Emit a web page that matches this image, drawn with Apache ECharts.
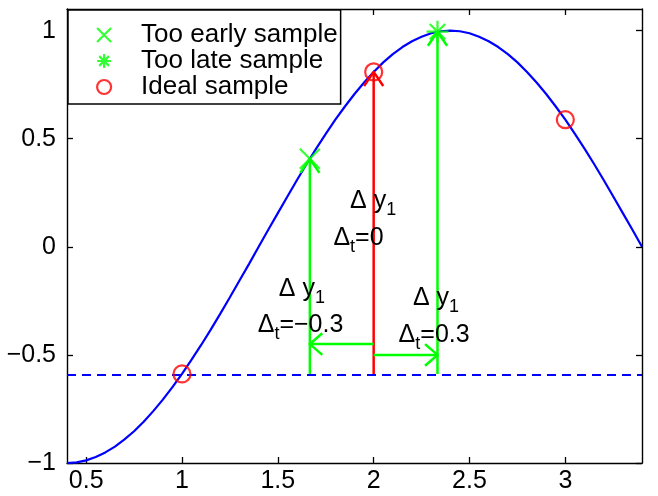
<!DOCTYPE html>
<html>
<head>
<meta charset="utf-8">
<script src="https://cdn.jsdelivr.net/npm/echarts@6/dist/echarts.min.js"></script>
<style>
  html, body { margin: 0; padding: 0; background: #fff; }
  #chart { width: 658px; height: 496px; }
</style>
</head>
<body>
<div id="chart"></div>
<script>
// Signal curve, sampled every 0.05
const curveX = [0.40, 0.45, 0.50, 0.55, 0.60, 0.65, 0.70, 0.75, 0.80, 0.85,
                0.90, 0.95, 1.00, 1.05, 1.10, 1.15, 1.20, 1.25, 1.30, 1.35,
                1.40, 1.45, 1.50, 1.55, 1.60, 1.65, 1.70, 1.75, 1.80, 1.85,
                1.90, 1.95, 2.00, 2.05, 2.10, 2.15, 2.20, 2.25, 2.30, 2.35,
                2.40, 2.45, 2.50, 2.55, 2.60, 2.65, 2.70, 2.75, 2.80, 2.85,
                2.90, 2.95, 3.00, 3.05, 3.10, 3.15, 3.20, 3.25, 3.30, 3.35, 3.40];
const curveY = [-1.000, -0.997, -0.988, -0.972, -0.951, -0.924, -0.891, -0.853, -0.809, -0.760,
                -0.707, -0.649, -0.588, -0.522, -0.454, -0.383, -0.309, -0.233, -0.156, -0.079,
                 0.000,  0.079,  0.156,  0.233,  0.309,  0.383,  0.454,  0.522,  0.588,  0.649,
                 0.707,  0.760,  0.809,  0.853,  0.891,  0.924,  0.951,  0.972,  0.988,  0.997,
                 1.000,  0.997,  0.988,  0.972,  0.951,  0.924,  0.891,  0.853,  0.809,  0.760,
                 0.707,  0.649,  0.588,  0.522,  0.454,  0.383,  0.309,  0.233,  0.156,  0.079,  0.000];

// Sample points
const earlyX = [1.667], earlyY = [0.407];
const lateX  = [2.333], lateY  = [0.995];
const idealX = [1, 2, 3], idealY = [-0.588, 0.809, 0.588];

// Reference level of the first ideal sample
const refLevel = -0.588;

// Arrows: [x1, y1, x2, y2] (head drawn at x2, y2)
const redArrows = [[2, -0.588, 2, 0.809]];
const greenArrows = [
  [1.667, -0.588, 1.667, 0.407],
  [2.333, -0.588, 2.333, 0.995],
  [2, -0.45, 1.667, -0.45],
  [2, -0.50, 2.333, -0.50]
];

// Annotation text
const noteText = [
  '{m|\u0394 y}{s|1}', '{m|\u0394}{s|t}{m|=0}',
  '{m|\u0394 y}{s|1}', '{m|\u0394}{s|t}{m|=\u22120.3}',
  '{m|\u0394 y}{s|1}', '{m|\u0394}{s|t}{m|=0.3}'
];
const noteX = [1.877, 1.790, 1.505, 1.395, 2.205, 2.130];
const noteY = [0.213, 0.039, -0.194, -0.361, -0.238, -0.407];

// Axis ticks
const xTicks = [0.5, 1, 1.5, 2, 2.5, 3];
const yTicks = [-1, -0.5, 0, 0.5, 1];

const FONT = '"Liberation Sans", Arial, Helvetica, sans-serif';
const BLUE = '#0000ff', GREEN = '#00ff00', RED = '#ff0000';
const HEAD_BACK = 0.065, HEAD_SIDE = 0.05;

const zip = (a, b) => a.map((v, i) => [v, b[i]]);
const tickFmt = v => (v < 0 ? '\u2212' : '') + Math.abs(v);

function arrowRenderer(color) {
  return function (params, api) {
    const x1 = api.value(0), y1 = api.value(1), x2 = api.value(2), y2 = api.value(3);
    const p1 = api.coord([x1, y1]), p2 = api.coord([x2, y2]);
    const sx = Math.sign(x2 - x1), sy = Math.sign(y2 - y1);
    let a, b;
    if (sx !== 0) {
      a = api.coord([x2 - sx * HEAD_BACK, y2 + HEAD_SIDE]);
      b = api.coord([x2 - sx * HEAD_BACK, y2 - HEAD_SIDE]);
    } else {
      a = api.coord([x2 - HEAD_SIDE, y2 - sy * HEAD_BACK]);
      b = api.coord([x2 + HEAD_SIDE, y2 - sy * HEAD_BACK]);
    }
    return {
      type: 'group',
      children: [
        { type: 'line', shape: { x1: p1[0], y1: p1[1], x2: p2[0], y2: p2[1] },
          style: { stroke: color, lineWidth: 2.5 } },
        { type: 'polyline', shape: { points: [a, p2, b] },
          style: { stroke: color, fill: null, lineWidth: 2.5 } }
      ]
    };
  };
}

function axisPair(kind, min, max, ticks, showLabels, position) {
  return {
    type: 'value', min: min, max: max, position: position,
    axisLine: { show: true, onZero: false, lineStyle: { color: '#000', width: 1.4 } },
    axisTick: { show: true, inside: true, length: 6, customValues: ticks,
                lineStyle: { color: '#000', width: 1.3 } },
    axisLabel: { show: showLabels, customValues: ticks, formatter: tickFmt,
                 fontSize: 25, fontFamily: FONT, color: '#000', margin: kind === 'x' ? 6 : 11 },
    splitLine: { show: false }
  };
}

const chart = echarts.init(document.getElementById('chart'), null, { renderer: 'canvas' });

const markerCommon = { type: 'scatter', silent: true, z: 5, emphasis: { disabled: true } };

chart.setOption({
  animation: false,
  backgroundColor: '#fff',
  grid: { left: 67, right: 16, top: 9, bottom: 33, containLabel: false, outerBoundsMode: 'none' },
  xAxis: [axisPair('x', 0.4, 3.4, xTicks, true, 'bottom'), axisPair('x', 0.4, 3.4, xTicks, false, 'top')],
  yAxis: [axisPair('y', -1, 1.1, yTicks, true, 'left'), axisPair('y', -1, 1.1, yTicks, false, 'right')],
  legend: {
    left: 68, top: 10, orient: 'vertical',
    data: ['Too early sample', 'Too late sample', 'Ideal sample'],
    backgroundColor: '#fff', borderColor: '#000', borderWidth: 1.5, borderRadius: 0,
    padding: [12, 3, 4, 28], itemGap: 0,
    itemWidth: 64, itemHeight: 14, symbolKeepAspect: true,
    selectedMode: false,
    itemStyle: { borderWidth: 2.2 },
    textStyle: { fontSize: 26, fontFamily: FONT, color: '#000' }
  },
  series: [
    {
      name: 'signal', type: 'line', data: zip(curveX, curveY), showSymbol: false, silent: true,
      lineStyle: { color: BLUE, width: 2.2 }, z: 2,
      markLine: {
        silent: true, symbol: 'none', label: { show: false },
        lineStyle: { color: BLUE, width: 2, type: [9, 6] },
        data: [{ yAxis: refLevel }]
      }
    },
    { type: 'custom', renderItem: arrowRenderer(RED), data: redArrows, z: 3, silent: true },
    { type: 'custom', renderItem: arrowRenderer(GREEN), data: greenArrows, z: 3, silent: true },
    Object.assign({}, markerCommon, {
      name: 'Too early sample', data: zip(earlyX, earlyY),
      symbol: 'path://M0,0L10,10M10,0L0,10', symbolSize: 20,
      itemStyle: { color: 'rgba(0,0,0,0)', borderColor: GREEN, borderWidth: 2.2 }
    }),
    Object.assign({}, markerCommon, {
      name: 'Too late sample', data: zip(lateX, lateY),
      symbol: 'path://M5,0L5,10M0,5L10,5M1.5,1.5L8.5,8.5M8.5,1.5L1.5,8.5', symbolSize: 22,
      itemStyle: { color: 'rgba(0,0,0,0)', borderColor: GREEN, borderWidth: 2.2 }
    }),
    Object.assign({}, markerCommon, {
      name: 'Ideal sample', data: zip(idealX, idealY),
      symbol: 'circle', symbolSize: 17,
      itemStyle: { color: 'rgba(0,0,0,0)', borderColor: RED, borderWidth: 2.2 }
    }),
    {
      type: 'custom', silent: true, z: 6,
      data: zip(noteX, noteY),
      renderItem: function (params, api) {
        const p = api.coord([api.value(0), api.value(1)]);
        return {
          type: 'text', x: p[0], y: p[1],
          style: {
            text: noteText[params.dataIndex],
            align: 'left', verticalAlign: 'middle', fill: '#000',
            rich: {
              m: { fontSize: 25, fontFamily: FONT, fill: '#000', lineHeight: 36, verticalAlign: 'middle' },
              s: { fontSize: 18, fontFamily: FONT, fill: '#000', lineHeight: 12, verticalAlign: 'bottom' }
            }
          }
        };
      }
    }
  ]
});
</script>
</body>
</html>
